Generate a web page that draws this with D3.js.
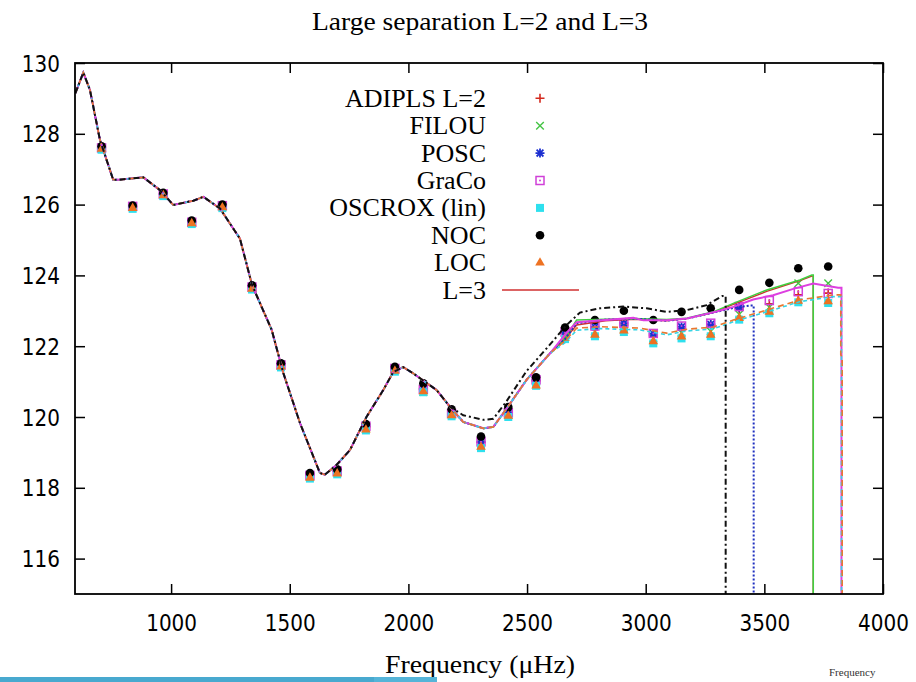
<!DOCTYPE html>
<html>
<head>
<meta charset="utf-8">
<script src="https://cdn.jsdelivr.net/npm/d3@7"></script>
<style>
  body { margin: 0; background: #fff; }
  svg { display: block; }
</style>
</head>
<body>
<div id="chart-wrapper"></div>
<script>
// ---- data ----
const xTicks = [1000, 1500, 2000, 2500, 3000, 3500, 4000];
const yTicks = [116, 118, 120, 122, 124, 126, 128, 130];

// L=2 mode frequencies (muHz)
const l2Freq = [707, 838, 967, 1087, 1216, 1341, 1463, 1585, 1700, 1821, 1943, 2063, 2182,
  2306, 2421, 2538, 2660, 2786, 2908, 3032, 3151, 3274, 3394, 3521, 3643, 3769];

const adiplsL2 = [127.62, 125.95, 126.3, 125.52, 125.97, 123.68, 121.48, 118.36, 118.47, 119.72, 121.35, 120.78, 120.1,
  119.28, 120.1, 121.02, 122.35, 122.5, 122.6, 122.3, 122.5, 122.6, 123.05, 123.2, 123.45, 123.5];
const filouL2 = [127.6, 125.93, 126.28, 125.5, 125.95, 123.66, 121.45, 118.34, 118.45, 119.7, 121.33, 120.71, 120.08,
  119.25, 120.05, 121.0, 122.3, 122.42, 122.52, 122.22, 122.38, 122.42, 122.9, 123.1, 123.78, 123.78];
const poscL2 = [127.62, 125.95, 126.3, 125.52, 125.97, 123.7, 121.5, 118.38, 118.48, 119.75, 121.38, 120.8, 120.12,
  119.3, 120.12, 121.05, 122.38, 122.55, 122.65, 122.35, 122.55, 122.62, 123.1, null, null, null];
const gracoL2 = [127.6, 125.95, 126.3, 125.5, 125.97, 123.67, 121.47, 118.35, 118.47, 119.74, 121.37, 120.78, 120.1,
  119.3, 120.12, 121.05, 122.4, 122.57, 122.65, 122.36, 122.57, 122.65, 123.12, 123.29, 123.54, 123.49];
const oscroxL2 = [127.55, 125.88, 126.24, 125.45, 125.9, 123.6, 121.4, 118.26, 118.38, 119.62, 121.28, 120.7, 120.02,
  119.12, 120.0, 120.88, 122.2, 122.28, 122.4, 122.08, 122.22, 122.28, 122.75, 122.93, 123.24, 123.22];
const nocL2 = [127.65, 125.97, 126.33, 125.55, 126.0, 123.72, 121.52, 118.42, 118.52, 119.8, 121.42, 120.95, 120.22,
  119.45, 120.28, 121.12, 122.53, 122.74, 123.0, 122.74, 122.97, 123.07, 123.59, 123.79, 124.2, 124.25];
const locL2 = [127.57, 125.9, 126.26, 125.47, 125.92, 123.62, 121.42, 118.28, 118.4, 119.64, 121.3, 120.72, 120.04,
  119.15, 120.03, 120.88, 122.23, 122.32, 122.44, 122.13, 122.27, 122.32, 122.79, 122.97, 123.28, 123.26];

// L=3 curves: shared low-frequency part (all codes overlap there)
const l3LeftFreq = [597, 602, 630, 658, 700, 756, 777, 883, 953, 1009, 1094, 1136, 1206, 1290, 1341, 1424, 1473,
  1543, 1627, 1648, 1698, 1754, 1824, 1894, 1936, 1978, 2021, 2119, 2175, 2231, 2316, 2358, 2414, 2498, 2597];
const l3LeftVal = [129.15, 129.24, 129.73, 129.24, 127.83, 126.7, 126.7, 126.77, 126.41, 125.99, 126.11, 126.22, 125.89,
  125.04, 123.73, 122.46, 121.24, 119.83, 118.42, 118.37, 118.65, 119.07, 120.01, 120.76, 121.27, 121.41, 121.23,
  120.76, 120.29, 119.86, 119.68, 119.72, 120.24, 121.05, 121.8];

// high-frequency parts, each ending with the drop where the code stops
const adiplsL3Freq = [2660, 2709, 2830, 2946, 3088, 3173, 3285, 3369, 3510, 3650, 3700, 3706, 3706];
const adiplsL3Val = [122.2, 122.6, 122.72, 122.76, 122.72, 122.78, 122.95, 123.18, 123.55, 123.85, 123.98, 123.98, 114];
const filouL3Freq = [2660, 2709, 2830, 2946, 3088, 3173, 3285, 3369, 3510, 3650, 3700, 3706, 3706];
const filouL3Val = [122.22, 122.74, 122.76, 122.78, 122.75, 122.79, 122.97, 123.21, 123.59, 123.87, 124.01, 124.01, 114];
const poscL3Freq = [2660, 2709, 2830, 2946, 3088, 3173, 3285, 3369, 3440, 3455, 3455];
const poscL3Val = [122.2, 122.65, 122.75, 122.78, 122.72, 122.78, 122.95, 123.08, 123.15, 123.15, 114];
const gracoL3Freq = [2667, 2709, 2948, 2990, 3088, 3173, 3229, 3299, 3369, 3453, 3537, 3622, 3706, 3811, 3825, 3825];
const gracoL3Val = [122.38, 122.68, 122.8, 122.73, 122.73, 122.78, 122.87, 122.98, 123.11, 123.32, 123.44, 123.62,
  123.77, 123.65, 123.65, 114];
const oscroxL3Freq = [2660, 2709, 2807, 2976, 3088, 3173, 3285, 3369, 3510, 3650, 3791, 3825, 3825];
const oscroxL3Val = [122.1, 122.45, 122.5, 122.46, 122.32, 122.43, 122.49, 122.69, 122.97, 123.26, 123.4, 123.4, 114];
const locL3Freq = [2660, 2709, 2807, 2976, 3088, 3173, 3285, 3369, 3510, 3650, 3791, 3822, 3822, 3828, 3828];
const locL3Val = [122.15, 122.51, 122.55, 122.51, 122.37, 122.48, 122.54, 122.74, 123.02, 123.31, 123.45, 123.45,
  121.75, 121.7, 114];
const nocL3Freq = [2231, 2316, 2358, 2414, 2498, 2597, 2667, 2723, 2807, 2905, 3004, 3088, 3173, 3257, 3324, 3337, 3337];
const nocL3Val = [120.05, 119.92, 119.95, 120.45, 121.3, 122.05, 122.6, 122.95, 123.07, 123.12, 123.07, 122.97,
  123.02, 123.16, 123.42, 123.42, 114];

const legendNames = ["ADIPLS L=2", "FILOU", "POSC", "GraCo", "OSCROX (lin)", "NOC", "LOC", "L=3"];

// ---- drawing ----
const dimensions = { width: 916, height: 682, left: 75, right: 883, top: 63, bottom: 594 };

const svg = d3.select("#chart-wrapper").append("svg")
  .attr("width", dimensions.width)
  .attr("height", dimensions.height);

const xScale = d3.scaleLinear().domain([595, 4000]).range([dimensions.left, dimensions.right]);
const yScale = d3.scaleLinear().domain([115, 130]).range([dimensions.bottom, dimensions.top]);

svg.append("clipPath").attr("id", "plot-clip")
  .append("rect")
  .attr("x", dimensions.left).attr("y", dimensions.top)
  .attr("width", dimensions.right - dimensions.left)
  .attr("height", dimensions.bottom - dimensions.top);

const plot = svg.append("g").attr("clip-path", "url(#plot-clip)");

// marker painters
function drawPlus(g, color) {
  g.append("path").attr("d", "M-4.5,0H4.5M0,-4.5V4.5").attr("stroke", color).attr("stroke-width", 1.6).attr("fill", "none");
}
function drawCross(g, color) {
  g.append("path").attr("d", "M-3.8,-3.8L3.8,3.8M-3.8,3.8L3.8,-3.8").attr("stroke", color).attr("stroke-width", 1.4).attr("fill", "none");
}
function drawStar(g, color) {
  g.append("path").attr("d", "M-4.5,0H4.5M0,-4.5V4.5M-3.4,-3.4L3.4,3.4M-3.4,3.4L3.4,-3.4")
    .attr("stroke", color).attr("stroke-width", 1.8).attr("fill", "none");
}
function drawOpenSquare(g, color) {
  g.append("rect").attr("x", -4).attr("y", -4).attr("width", 8).attr("height", 8)
    .attr("fill", "none").attr("stroke", color).attr("stroke-width", 1.5);
  g.append("circle").attr("r", 1).attr("fill", color);
}
function drawFilledSquare(g, color) {
  g.append("rect").attr("x", -4).attr("y", -4).attr("width", 8).attr("height", 8).attr("fill", color);
}
function drawCircle(g, color) {
  g.append("circle").attr("r", 4.3).attr("fill", color);
}
function drawTriangle(g, color) {
  g.append("path").attr("d", d3.symbol(d3.symbolTriangle, 40)()).attr("fill", color);
}

const pointSeries = [
  { values: adiplsL2, color: "#d42a1e", marker: drawPlus },
  { values: filouL2, color: "#44c444", marker: drawCross },
  { values: poscL2, color: "#1c2fd0", marker: drawStar },
  { values: gracoL2, color: "#d040d8", marker: drawOpenSquare },
  { values: oscroxL2, color: "#2ee0ee", marker: drawFilledSquare },
  { values: nocL2, color: "#000000", marker: drawCircle },
  { values: locL2, color: "#ee7222", marker: drawTriangle },
];

pointSeries.forEach((s) => {
  const pts = l2Freq.map((f, i) => ({ f: f, v: s.values[i] })).filter((d) => d.v !== null);
  plot.append("g").selectAll("g")
    .data(pts)
    .join("g")
    .attr("transform", (d) => `translate(${xScale(d.f)},${yScale(d.v)})`)
    .each(function () { s.marker(d3.select(this), s.color); });
});

// L=3 lines
const lineGenerator = d3.line().x((d) => xScale(d.f)).y((d) => yScale(d.v));
function pairs(freqs, vals) { return freqs.map((f, i) => ({ f: f, v: vals[i] })); }
const leftPart = pairs(l3LeftFreq, l3LeftVal);

const lineSeries = [
  { pts: leftPart.concat(pairs(adiplsL3Freq, adiplsL3Val)), color: "#d03030", width: 1.4, dash: null },
  { pts: leftPart.concat(pairs(filouL3Freq, filouL3Val)), color: "#3fcf3f", width: 1.6, dash: null },
  { pts: leftPart.concat(pairs(poscL3Freq, poscL3Val)), color: "#2030c0", width: 2, dash: "2,2" },
  { pts: leftPart.concat(pairs(gracoL3Freq, gracoL3Val)), color: "#dd3fe0", width: 2, dash: null },
  { pts: leftPart.concat(pairs(oscroxL3Freq, oscroxL3Val)), color: "#35d4e4", width: 1.6, dash: "4,3" },
  { pts: leftPart.concat(pairs(locL3Freq, locL3Val)), color: "#e87830", width: 1.6, dash: "6,4" },
  { pts: leftPart.filter((d) => d.f <= 2175).concat(pairs(nocL3Freq, nocL3Val)), color: "#111", width: 2, dash: "6,3,2,3" },
];

lineSeries.forEach((s) => {
  plot.append("path")
    .datum(s.pts)
    .attr("d", lineGenerator)
    .attr("fill", "none")
    .attr("stroke", s.color)
    .attr("stroke-width", s.width)
    .attr("stroke-dasharray", s.dash);
});

// axes with inward ticks on all four sides
const tickFont = "'DejaVu Sans', sans-serif";
const xAxis = svg.append("g")
  .attr("transform", `translate(0,${dimensions.bottom})`)
  .call(d3.axisBottom(xScale).tickValues(xTicks).tickFormat(d3.format("d")).tickSizeInner(-10).tickSizeOuter(0));
const yAxis = svg.append("g")
  .attr("transform", `translate(${dimensions.left},0)`)
  .call(d3.axisLeft(yScale).tickValues(yTicks).tickFormat(d3.format("d")).tickSizeInner(-10).tickSizeOuter(0));
svg.append("g")
  .attr("transform", `translate(0,${dimensions.top})`)
  .call(d3.axisTop(xScale).tickValues(xTicks).tickSizeInner(-10).tickSizeOuter(0).tickFormat(""));
svg.append("g")
  .attr("transform", `translate(${dimensions.right},0)`)
  .call(d3.axisRight(yScale).tickValues(yTicks).tickSizeInner(-10).tickSizeOuter(0).tickFormat(""));

svg.selectAll(".domain").remove();
svg.selectAll(".tick line").attr("stroke", "#000").attr("stroke-width", 1.5);

xAxis.selectAll("text")
  .attr("y", 33).attr("dy", null)
  .attr("transform", "scale(1,1.12)")
  .style("font-family", tickFont).style("font-size", "20px").attr("fill", "#000");
yAxis.selectAll("text")
  .attr("x", -15).attr("dy", "0.36em")
  .attr("transform", "scale(1,1.12)")
  .style("font-family", tickFont).style("font-size", "20px").attr("fill", "#000");

// frame
svg.append("rect")
  .attr("x", dimensions.left).attr("y", dimensions.top)
  .attr("width", dimensions.right - dimensions.left)
  .attr("height", dimensions.bottom - dimensions.top)
  .attr("fill", "none").attr("stroke", "#000").attr("stroke-width", 1.8);

// title and axis label
const serif = "'Liberation Serif', 'Times New Roman', serif";
svg.append("text")
  .attr("x", 312).attr("y", 30)
  .attr("textLength", 336).attr("lengthAdjust", "spacingAndGlyphs")
  .style("font-family", serif).style("font-size", "25px")
  .text("Large separation L=2 and L=3");
svg.append("text")
  .attr("x", 385).attr("y", 673)
  .attr("textLength", 190).attr("lengthAdjust", "spacingAndGlyphs")
  .style("font-family", serif).style("font-size", "25px")
  .text("Frequency (\u03bcHz)");

// legend
const legend = svg.append("g");
legendNames.forEach((name, i) => {
  const cy = 98.3 + 27.4 * i;
  legend.append("text")
    .attr("x", 486).attr("y", cy + 8.5)
    .attr("text-anchor", "end")
    .style("font-family", serif).style("font-size", "26px")
    .text(name);
  if (i < pointSeries.length) {
    const g = legend.append("g").attr("transform", `translate(540,${cy})`);
    pointSeries[i].marker(g, pointSeries[i].color);
  } else {
    legend.append("line")
      .attr("x1", 502).attr("x2", 579).attr("y1", cy).attr("y2", cy)
      .attr("stroke", "#d03030").attr("stroke-width", 1.5);
  }
});

// screenshot leftovers at the bottom edge
svg.append("rect").attr("x", 0).attr("y", 677).attr("width", 374).attr("height", 5).attr("fill", "#48a9cf");
svg.append("rect").attr("x", 374).attr("y", 677).attr("width", 63).attr("height", 5).attr("fill", "#55b4d8");
svg.append("text")
  .attr("x", 829).attr("y", 676)
  .style("font-family", serif).style("font-size", "11px").attr("fill", "#333")
  .text("Frequency");
</script>
</body>
</html>
